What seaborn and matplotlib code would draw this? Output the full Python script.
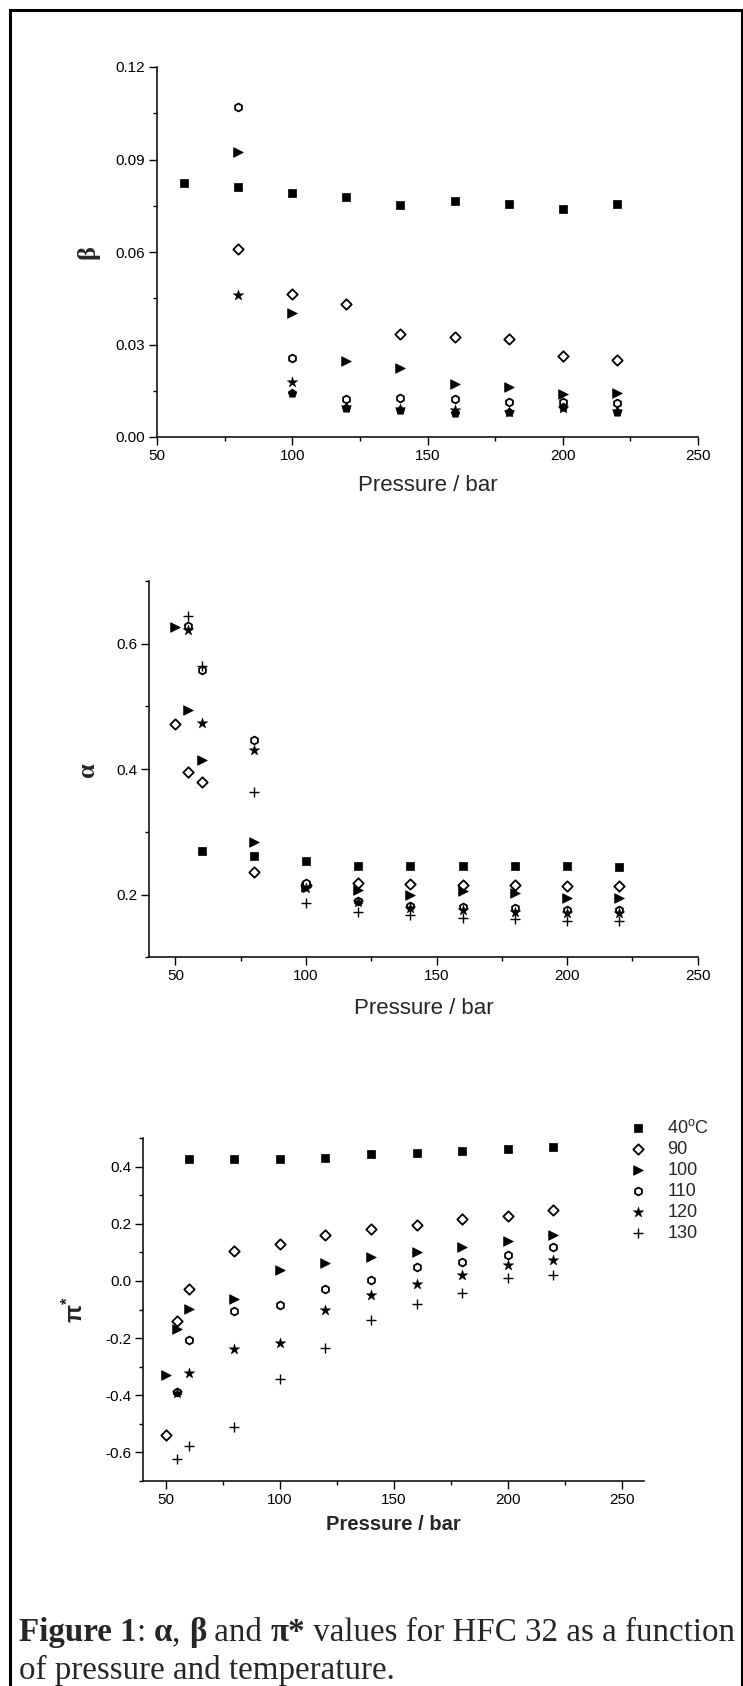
import numpy as np
import pandas as pd
import matplotlib
matplotlib.use("Agg")
import matplotlib.pyplot as plt
from matplotlib.lines import Line2D
from matplotlib.ticker import MultipleLocator
import seaborn as sns

# ---------------- data ----------------
temps = ["40", "90", "100", "110", "120", "130"]
legend_labels = ["40$^{\\rm o}$C", "90", "100", "110", "120", "130"]

# beta
beta_P40 = [60, 80, 100, 120, 140, 160, 180, 200, 220]
beta_40 = [0.0825, 0.0810, 0.0792, 0.0777, 0.0752, 0.0766, 0.0755, 0.0741, 0.0757]
beta_Phot = [80, 100, 120, 140, 160, 180, 200, 220]
beta_90 = [0.0609, 0.0465, 0.0431, 0.0335, 0.0325, 0.0317, 0.0263, 0.0250]
beta_100 = [0.0923, 0.0401, 0.0248, 0.0223, 0.0172, 0.0161, 0.0138, 0.0142]
beta_110 = [0.1069, 0.0257, 0.0122, 0.0128, 0.0123, 0.0112, 0.0115, 0.0111]
beta_120 = [0.0461, 0.0179, 0.0096, 0.0091, 0.0088, 0.0082, 0.0093, 0.0085]
beta_P130 = [100, 120, 140, 160, 180, 200, 220]
beta_130 = [0.0144, 0.0093, 0.0088, 0.0077, 0.0082, 0.0098, 0.0082]

# alpha
alpha_P40 = [60, 80, 100, 120, 140, 160, 180, 200, 220]
alpha_40 = [0.270, 0.262, 0.254, 0.246, 0.246, 0.246, 0.246, 0.246, 0.244]
alpha_P90 = [50, 55, 60, 80, 100, 120, 140, 160, 180, 200, 220]
alpha_90 = [0.472, 0.395, 0.380, 0.236, 0.216, 0.218, 0.217, 0.216, 0.215, 0.214, 0.213]
alpha_100 = [0.626, 0.495, 0.414, 0.284, 0.212, 0.207, 0.199, 0.205, 0.203, 0.195, 0.194]
alpha_P110 = [55, 60, 80, 100, 120, 140, 160, 180, 200, 220]
alpha_110 = [0.629, 0.558, 0.446, 0.218, 0.190, 0.182, 0.180, 0.178, 0.176, 0.175]
alpha_120 = [0.622, 0.474, 0.430, 0.211, 0.188, 0.178, 0.176, 0.173, 0.171, 0.170]
alpha_130 = [0.644, 0.565, 0.364, 0.187, 0.172, 0.167, 0.163, 0.161, 0.158, 0.158]

# pi*
pi_P40 = [60, 80, 100, 120, 140, 160, 180, 200, 220]
pi_40 = [0.427, 0.428, 0.429, 0.432, 0.444, 0.450, 0.456, 0.462, 0.468]
pi_P90 = [50, 55, 60, 80, 100, 120, 140, 160, 180, 200, 220]
pi_90 = [-0.539, -0.140, -0.027, 0.105, 0.128, 0.162, 0.181, 0.197, 0.217, 0.229, 0.247]
pi_100 = [-0.328, -0.170, -0.098, -0.064, 0.040, 0.064, 0.085, 0.100, 0.120, 0.139, 0.162]
pi_P110 = [55, 60, 80, 100, 120, 140, 160, 180, 200, 220]
pi_110 = [-0.388, -0.208, -0.106, -0.085, -0.027, 0.005, 0.048, 0.065, 0.090, 0.119]
pi_120 = [-0.392, -0.324, -0.238, -0.217, -0.100, -0.050, -0.009, 0.020, 0.055, 0.072]
pi_130 = [-0.625, -0.579, -0.511, -0.343, -0.234, -0.138, -0.079, -0.042, 0.011, 0.022]

# ---------------- style ----------------
sns.set_style("ticks")
plt.rcParams["font.family"] = ["Liberation Sans", "DejaVu Sans"]
plt.rcParams["mathtext.fontset"] = "custom"
plt.rcParams["mathtext.rm"] = "Liberation Sans"
plt.rcParams["mathtext.bf"] = "Liberation Sans:bold"

W, H = 743, 1686
fig = plt.figure(figsize=(W / 100, H / 100), dpi=100)
fig.patch.set_facecolor("white")

TICK_FS = 11


def axes_px(left, top, right, bottom):
    return fig.add_axes([left / W, 1 - bottom / H, (right - left) / W, (bottom - top) / H])


STY = {
    "40": dict(marker="s", color="black", edgecolor="black", s=36, linewidth=0.5),
    "90": dict(marker="D", color="white", edgecolor="black", s=28, linewidth=1.3),
    "100": dict(marker=">", color="black", edgecolor="black", s=48, linewidth=0.5),
    "110": dict(marker="h", color="white", edgecolor="black", s=32, linewidth=1.3),
    "120": dict(marker="*", color="black", edgecolor="black", s=64, linewidth=0.3),
    "130": dict(marker="+", color="black", s=54, linewidth=1.0),
}


def draw(ax, P, v, key, label=None, override=None):
    kw = dict(STY[key])
    if override:
        kw.update(override)
    sns.scatterplot(x=P, y=v, ax=ax, legend=False, label=label, zorder=3, **kw)


def style_axes(ax):
    for sp in ["top", "right"]:
        ax.spines[sp].set_visible(False)
    for sp in ["left", "bottom"]:
        ax.spines[sp].set_linewidth(1.1)
        ax.spines[sp].set_color("black")
    ax.tick_params(which="major", direction="out", length=5.5, width=1.0, labelsize=TICK_FS,
                   colors="black", pad=3)
    ax.tick_params(which="minor", direction="out", length=3, width=1.0, colors="black")
    ax.set_facecolor("white")
    ax.grid(False)


GREEK = ["Liberation Serif", "DejaVu Serif"]

# ---------------- top panel: beta ----------------
ax1 = axes_px(157, 67, 698, 437)
draw(ax1, beta_P40, beta_40, "40")
draw(ax1, beta_Phot, beta_90, "90")
draw(ax1, beta_Phot, beta_100, "100")
draw(ax1, beta_Phot, beta_110, "110")
draw(ax1, beta_Phot, beta_120, "120")
draw(ax1, beta_P130, beta_130, "130",
     override=dict(marker="p", color="black", edgecolor="black", s=42, linewidth=0.5))
ax1.set_xlim(50, 250)
ax1.set_ylim(0, 0.12)
ax1.xaxis.set_major_locator(MultipleLocator(50))
ax1.xaxis.set_minor_locator(MultipleLocator(25))
ax1.yaxis.set_major_locator(MultipleLocator(0.03))
ax1.yaxis.set_minor_locator(MultipleLocator(0.015))
ax1.yaxis.set_major_formatter(matplotlib.ticker.FormatStrFormatter("%.2f"))
style_axes(ax1)
ax1.set_xlabel("Pressure / bar", fontsize=16)
ax1.xaxis.label.set_va("center")
ax1.xaxis.set_label_coords(0.5, -0.132)
ax1.set_ylabel("β", fontsize=19, family=GREEK, fontweight="bold")
ax1.yaxis.label.set_va("center")
ax1.yaxis.set_label_coords(-0.1275, 0.5)

# ---------------- middle panel: alpha ----------------
ax2 = axes_px(149.3, 581, 697.7, 957.3)
draw(ax2, alpha_P40, alpha_40, "40")
draw(ax2, alpha_P90, alpha_90, "90")
draw(ax2, alpha_P90, alpha_100, "100")
draw(ax2, alpha_P110, alpha_110, "110")
draw(ax2, alpha_P110, alpha_120, "120")
draw(ax2, alpha_P110, alpha_130, "130")
ax2.set_xlim(40, 250)
ax2.set_ylim(0.1, 0.7)
ax2.xaxis.set_major_locator(MultipleLocator(50))
ax2.xaxis.set_minor_locator(MultipleLocator(25))
ax2.yaxis.set_major_locator(matplotlib.ticker.FixedLocator([0.2, 0.4, 0.6]))
ax2.yaxis.set_minor_locator(matplotlib.ticker.FixedLocator([0.1, 0.3, 0.5, 0.7]))
ax2.yaxis.set_major_formatter(matplotlib.ticker.FormatStrFormatter("%.1f"))
style_axes(ax2)
ax2.set_xlabel("Pressure / bar", fontsize=16)
ax2.xaxis.label.set_va("center")
ax2.xaxis.set_label_coords(0.5, -0.137)
ax2.set_ylabel("α", fontsize=19, family=GREEK, fontweight="bold")
ax2.yaxis.label.set_va("center")
ax2.yaxis.set_label_coords(-0.112, 0.5)

# ---------------- bottom panel: pi* ----------------
ax3 = axes_px(143.3, 1138.3, 644.3, 1480.7)
series = [
    (pi_P40, pi_40), (pi_P90, pi_90), (pi_P90, pi_100),
    (pi_P110, pi_110), (pi_P110, pi_120), (pi_P110, pi_130),
]
for (P, v), key, lab in zip(series, temps, legend_labels):
    draw(ax3, P, v, key, label=lab)
ax3.set_xlim(40, 260)
ax3.set_ylim(-0.7, 0.5)
ax3.xaxis.set_major_locator(MultipleLocator(50))
ax3.xaxis.set_minor_locator(MultipleLocator(25))
ax3.yaxis.set_major_locator(matplotlib.ticker.FixedLocator([-0.6, -0.4, -0.2, 0.0, 0.2, 0.4]))
ax3.yaxis.set_minor_locator(matplotlib.ticker.FixedLocator([-0.7, -0.5, -0.3, -0.1, 0.1, 0.3, 0.5]))
ax3.yaxis.set_major_formatter(matplotlib.ticker.FormatStrFormatter("%.1f"))
style_axes(ax3)
ax3.set_xlabel("Pressure / bar", fontsize=14.5, fontweight="bold")
ax3.xaxis.label.set_va("center")
ax3.xaxis.set_label_coords(0.5, -0.129)
ax3.set_ylabel(r"$\mathbf{\pi^{*}}$", fontsize=17)
ax3.yaxis.label.set_va("center")
ax3.yaxis.set_label_coords(-0.135, 0.5)

handles, labels = ax3.get_legend_handles_labels()
leg = ax3.legend(handles, labels, loc="upper left",
                 bbox_to_anchor=(629.4 / W, 1 - 1119 / H),
                 bbox_transform=fig.transFigure, frameon=False, fontsize=13,
                 handlelength=1.0, handletextpad=1.1, labelspacing=0.22,
                 borderpad=0, borderaxespad=0)

# ---------------- frame ----------------
lw_frame = 2.2
fig.add_artist(Line2D([9.5 / W, 9.5 / W], [0, 1 - 10 / H], transform=fig.transFigure,
                      color="black", lw=lw_frame))
fig.add_artist(Line2D([9.5 / W, 741.5 / W], [1 - 10 / H, 1 - 10 / H], transform=fig.transFigure,
                      color="black", lw=lw_frame, solid_capstyle="projecting"))
fig.add_artist(Line2D([741.5 / W, 741.5 / W], [0, 1 - 10 / H], transform=fig.transFigure,
                      color="black", lw=lw_frame))

# ---------------- caption ----------------
renderer = fig.canvas.get_renderer()
CAP_FS = 23.8
SERIF = ["Liberation Serif", "DejaVu Serif"]


def text_width(s, weight):
    t1 = fig.text(0, 0, "|" + s + "|", fontsize=CAP_FS, family=SERIF, weight=weight)
    t2 = fig.text(0, 0, "||", fontsize=CAP_FS, family=SERIF, weight=weight)
    w = t1.get_window_extent(renderer).width - t2.get_window_extent(renderer).width
    t1.remove()
    t2.remove()
    return w


def caption_line(pieces, x_px, y_px):
    x = x_px
    for s, weight in pieces:
        fig.text(x / W, 1 - y_px / H, s, fontsize=CAP_FS, family=SERIF, weight=weight,
                 va="baseline", ha="left")
        x += text_width(s, weight)


caption_line([("Figure 1", "bold"), (": ", "normal"), ("α", "bold"), (", ", "normal"),
              ("β", "bold"), (" and ", "normal"), ("π*", "bold"),
              (" values for HFC 32 as a function", "normal")], 19, 1641)
caption_line([("of pressure and temperature.", "normal")], 19, 1679)

fig.savefig("out.png", dpi=100, facecolor="white")
